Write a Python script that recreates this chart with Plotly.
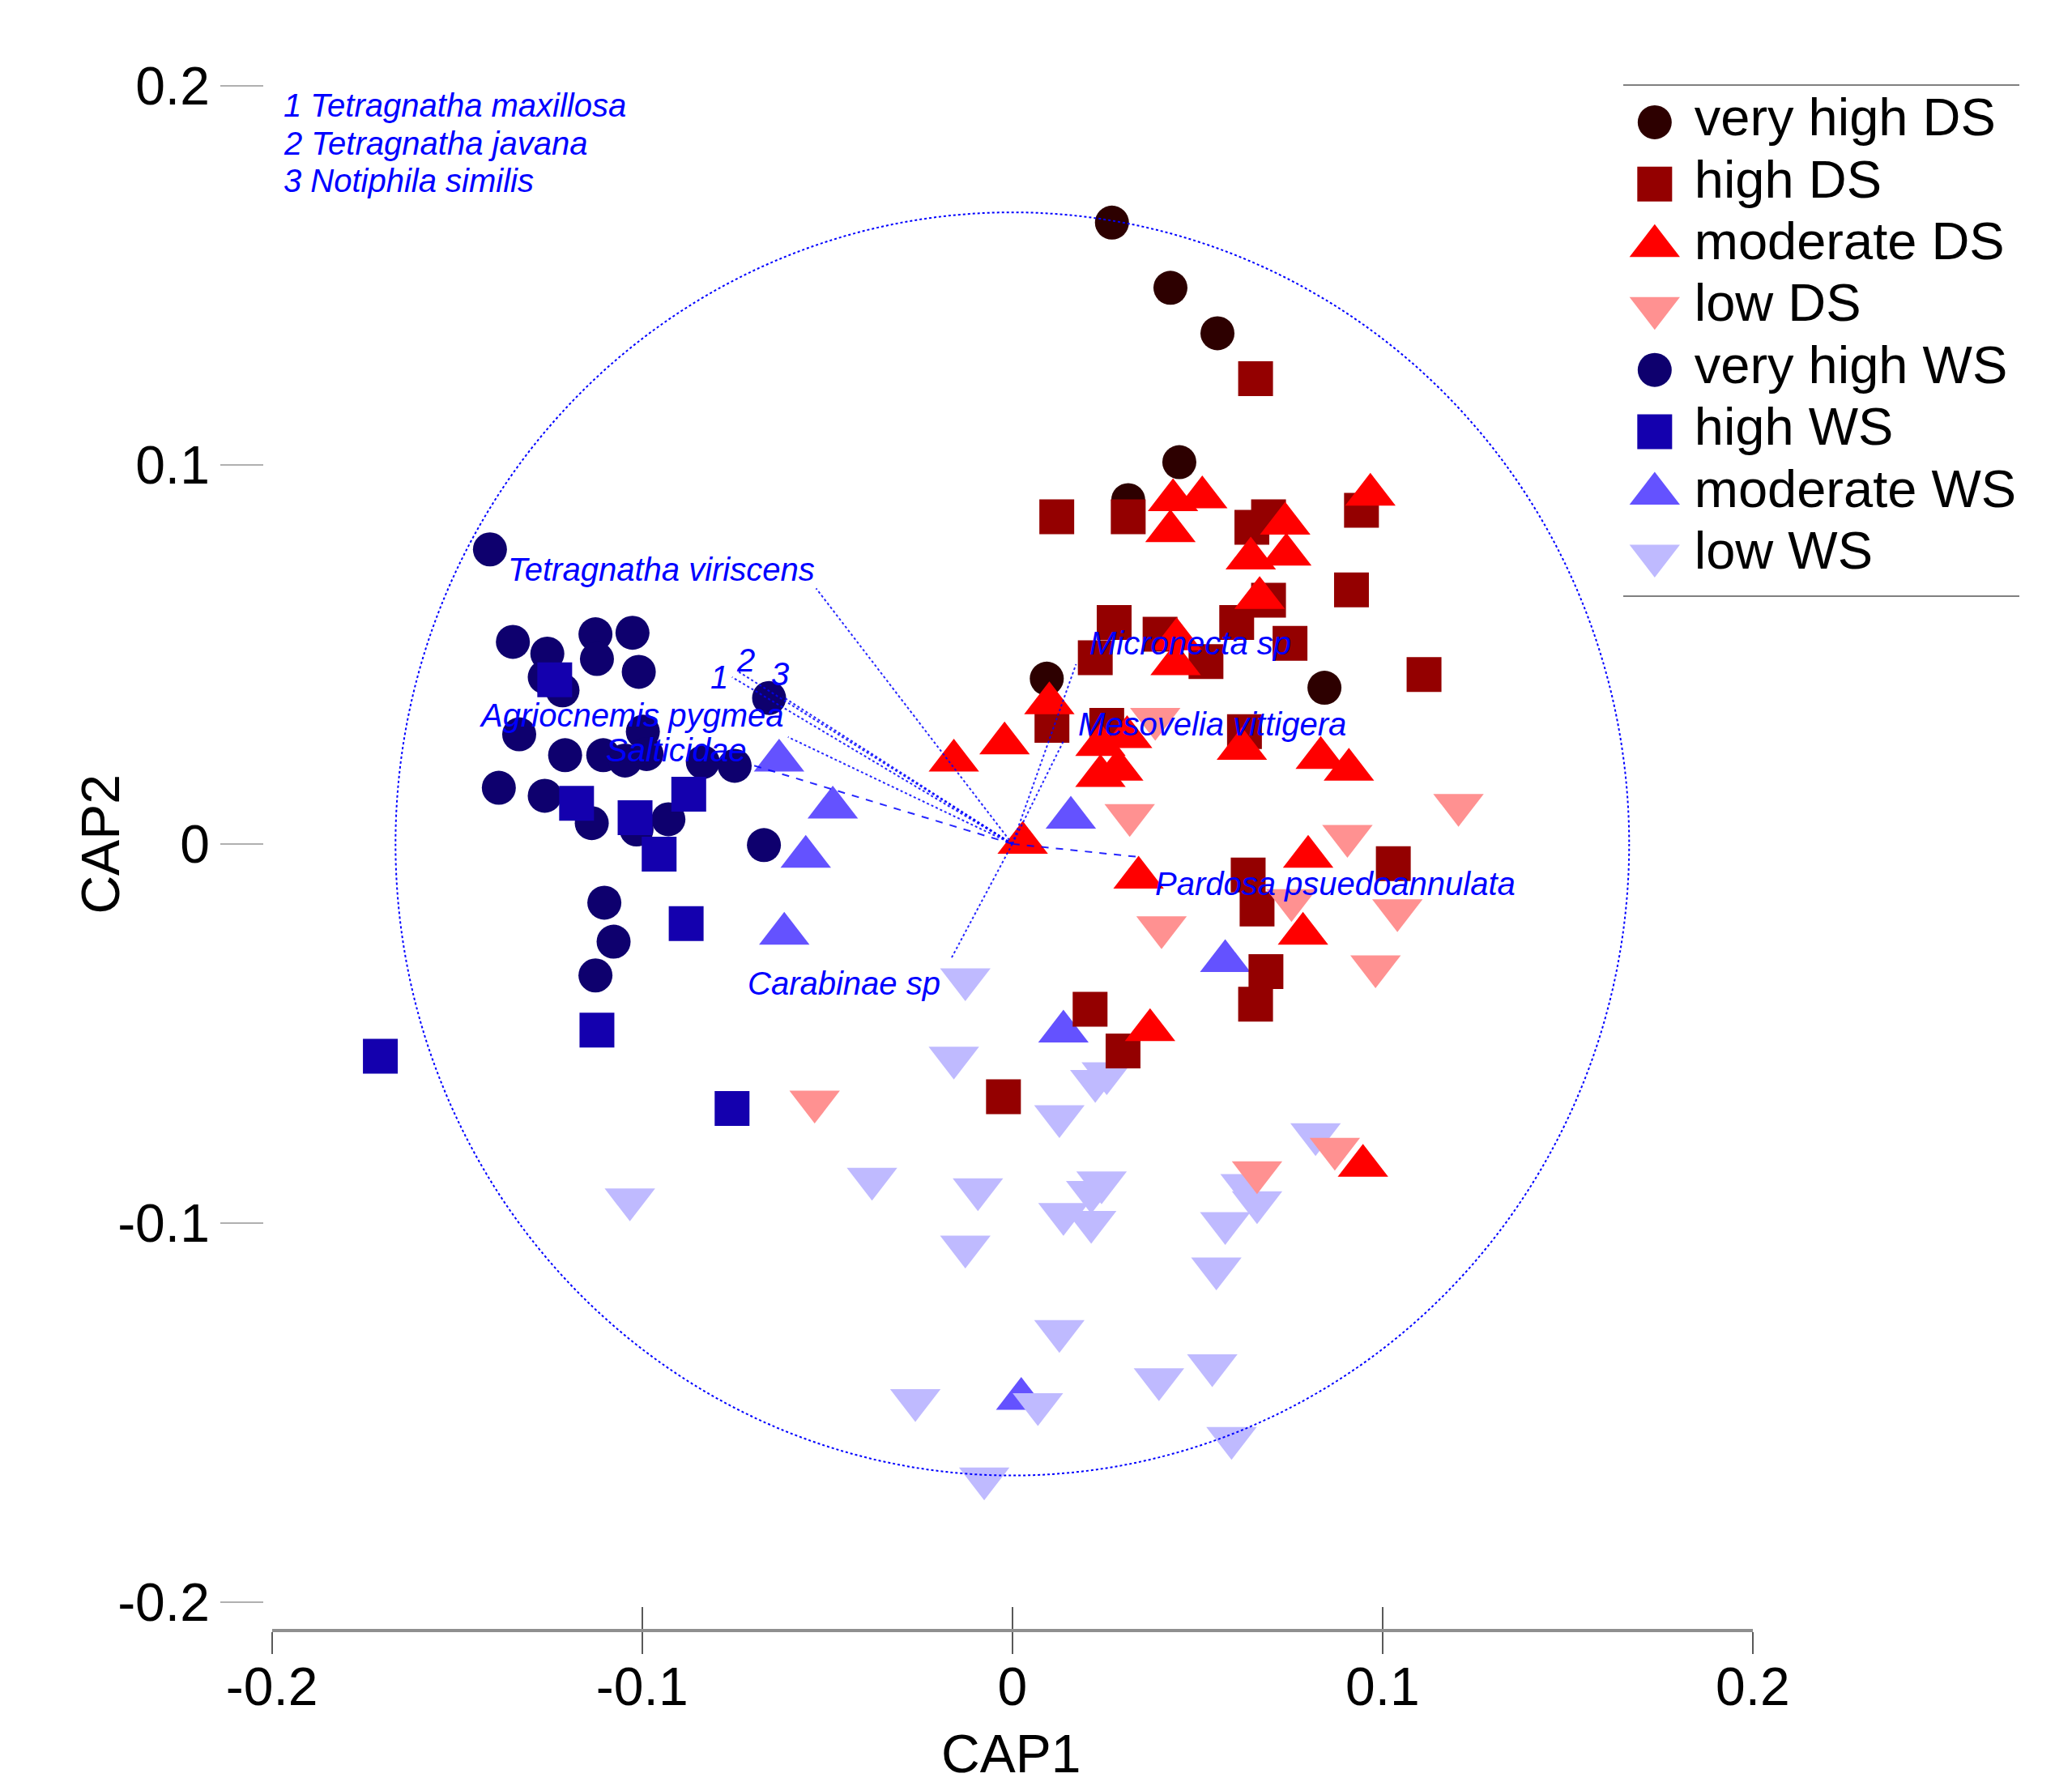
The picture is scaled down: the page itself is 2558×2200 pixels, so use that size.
import plotly.graph_objects as go

W, H = 2558, 2200
FONT = "Liberation Sans, Arial, sans-serif"
BLUE = "#0000ff"

# ---- sample scores (CAP1, CAP2) ----
vh_ds_x = [0.0269, 0.0427, 0.0554, 0.0451, 0.0313, 0.0093, 0.0843]
vh_ds_y = [0.1639, 0.1467, 0.1347, 0.1007, 0.0907, 0.0436, 0.0412]

h_ds_x = [0.0657, 0.0120, 0.0313, 0.0647, 0.0692, 0.0943, 0.0916, 0.0692, 0.0606,
          0.0275, 0.0399, 0.0750, 0.0224, 0.0523, 0.1112, 0.0107, 0.0255, 0.0627,
          0.1029, 0.0637, 0.0661, 0.0685, 0.0657, 0.0210, 0.0299, -0.0024]
h_ds_y = [0.1227, 0.0863, 0.0863, 0.0835, 0.0863, 0.0880, 0.0670, 0.0643, 0.0584,
          0.0584, 0.0553, 0.0529, 0.0491, 0.0481, 0.0447, 0.0313, 0.0313, 0.0296,
          -0.0052, -0.0082, -0.0172, -0.0337, -0.0423, -0.0436, -0.0546, -0.0667]

m_ds_x = [0.0434, 0.0513, 0.0427, 0.0737, 0.0644, 0.0740, 0.0967, 0.0668, 0.0444,
          0.0441, 0.0100, 0.0238, 0.0310, 0.0238, 0.0286, 0.0620, 0.0833, 0.0909,
          0.0799, 0.0785, -0.0158, -0.0021, 0.0028, 0.0341, 0.0372, 0.0947]
m_ds_y = [0.0907, 0.0914, 0.0825, 0.0845, 0.0753, 0.0763, 0.0921, 0.0649, 0.0540,
          0.0474, 0.0371, 0.0261, 0.0282, 0.0179, 0.0196, 0.0251, 0.0227, 0.0196,
          -0.0034, -0.0237, 0.0220, 0.0265, 0.0003, -0.0089, -0.0491, -0.0849]

l_ds_x = [0.0386, 0.0317, 0.0905, 0.1205, 0.0754, 0.1040, 0.0403, 0.0981, 0.0871,
          0.0661, -0.0534]
l_ds_y = [0.0330, 0.0076, 0.0021, 0.0103, -0.0148, -0.0175, -0.0220, -0.0323, -0.0804,
          -0.0866, -0.0680]

vh_ws_x = [-0.1411, -0.1349, -0.1256, -0.1126, -0.1026, -0.1122, -0.1009, -0.1263,
           -0.1215, -0.1332, -0.1208, -0.1105, -0.1046, -0.0998, -0.0988, -0.0836,
           -0.0750, -0.0657, -0.1387, -0.1263, -0.1136, -0.1015, -0.0929, -0.0671,
           -0.1102, -0.1077, -0.1126]
vh_ws_y = [0.0777, 0.0533, 0.0502, 0.0553, 0.0557, 0.0488, 0.0454, 0.0440, 0.0405,
           0.0289, 0.0234, 0.0234, 0.0220, 0.0296, 0.0237, 0.0216, 0.0206, 0.0385,
           0.0148, 0.0127, 0.0055, 0.0038, 0.0065, -0.0003, -0.0155, -0.0258, -0.0347]

h_ws_x = [-0.1236, -0.1177, -0.1019, -0.0874, -0.0954, -0.0881, -0.1122, -0.1707, -0.0757]
h_ws_y = [0.0433, 0.0107, 0.0069, 0.0131, -0.0027, -0.0210, -0.0491, -0.0560, -0.0698]

m_ws_x = [-0.0630, -0.0485, -0.0558, -0.0616, 0.0158, 0.0575, 0.0138, 0.0024]
m_ws_y = [0.0220, 0.0096, -0.0034, -0.0237, 0.0069, -0.0309, -0.0495, -0.1464]

l_ws_x = [-0.0127, -0.0158, 0.0255, 0.0224, 0.0127, -0.0379, -0.0093, 0.0241, 0.0213,
          0.0138, 0.0213, -0.0127, 0.0575, 0.0630, 0.0661, 0.0551, 0.0127, -0.0262,
          0.0069, 0.0396, 0.0540, 0.0592, -0.0076, 0.0819, -0.1033]
l_ws_y = [-0.0357, -0.0564, -0.0605, -0.0625, -0.0718, -0.0883, -0.0911, -0.0893,
          -0.0918, -0.0976, -0.0997, -0.1062, -0.1000, -0.0900, -0.0945, -0.1120,
          -0.1285, -0.1467, -0.1478, -0.1412, -0.1375, -0.1567, -0.1674, -0.0766, -0.0938]

# ---- species vectors ----
vec_names = ["Tetragnatha viriscens", "1", "2", "3", "Agriocnemis pygmea", "Salticidae",
             "Micronecta sp", "Mesovelia vittigera", "Pardosa psuedoannulata", "Carabinae sp"]
vec_x = [-0.0530, -0.0757, -0.0744, -0.0620, -0.0606, -0.0709, 0.0172, 0.0138, 0.0337, -0.0165]
vec_y = [0.0674, 0.0440, 0.0457, 0.0388, 0.0282, 0.0210, 0.0474, 0.0271, -0.0034, -0.0302]
CIRCLE_R = 0.1666

KEY = ["1 Tetragnatha maxillosa", "2 Tetragnatha javana", "3 Notiphila similis"]

TICKS = [-0.2, -0.1, 0, 0.1, 0.2]
TICK_TEXT = ["-0.2", "-0.1", "0", "0.1", "0.2"]

GROUPS = ["very high DS", "high DS", "moderate DS", "low DS",
          "very high WS", "high WS", "moderate WS", "low WS"]
POINTS = {
    "very high DS": (vh_ds_x, vh_ds_y), "high DS": (h_ds_x, h_ds_y),
    "moderate DS": (m_ds_x, m_ds_y), "low DS": (l_ds_x, l_ds_y),
    "very high WS": (vh_ws_x, vh_ws_y), "high WS": (h_ws_x, h_ws_y),
    "moderate WS": (m_ws_x, m_ws_y), "low WS": (l_ws_x, l_ws_y),
}
COLOR = {
    "very high DS": "#2d0000", "high DS": "#940000", "moderate DS": "#ff0000",
    "low DS": "#ff9191", "very high WS": "#0e006e", "high WS": "#1400ae",
    "moderate WS": "#6452ff", "low WS": "#bfbaff",
}
SYMBOL = {
    "very high DS": "circle", "high DS": "square", "moderate DS": "triangle-up",
    "low DS": "triangle-down", "very high WS": "circle", "high WS": "square",
    "moderate WS": "triangle-up", "low WS": "triangle-down",
}
SIZE = {"circle": 42, "square": 43, "triangle-up": 54, "triangle-down": 54}

# label placement per vector: (xanchor, xshift px, yshift px)
LABEL_POS = [("right", 0, 23), ("right", -3, 0), ("left", -3, 13), ("center", -3, 28),
             ("right", -3, 27), ("right", -3, 18), ("left", 15, 26), ("left", 16, 21),
             ("left", 20, -33), ("right", -11, -31)]
VEC_DASH = ["dot", "dot", "dot", "dot", "dot", "dash", "dot", "dot", "dash", "dot"]


def px(v):
    return v / W


def py(v):
    return 1 - v / H


fig = go.Figure()

# WS samples drawn first, DS samples on top (as in the original)
for g in GROUPS[4:] + GROUPS[:4]:
    xs, ys = POINTS[g]
    fig.add_trace(go.Scatter(
        x=xs, y=ys, mode="markers", name=g,
        marker=dict(symbol=SYMBOL[g], color=COLOR[g], size=SIZE[SYMBOL[g]],
                    opacity=1, line=dict(width=0)),
        hovertemplate=g + "<br>CAP1 %{x:.3f}<br>CAP2 %{y:.3f}<extra></extra>",
    ))

# vectors on the overlaid x2 axis (also carries the upward half of x ticks)
for name, vx, vy, dash in zip(vec_names, vec_x, vec_y, VEC_DASH):
    fig.add_trace(go.Scatter(
        x=[0, vx], y=[0, vy], mode="lines", xaxis="x2", yaxis="y",
        line=dict(color="rgba(0,0,255,0.85)", width=2, dash=dash),
        hoverinfo="skip",
    ))

# custom legend panel
rows = [-i for i in range(len(GROUPS))]
fig.add_trace(go.Scatter(
    x=[0.08] * len(GROUPS), y=rows, mode="markers", xaxis="x3", yaxis="y3",
    marker=dict(symbol=[SYMBOL[g] for g in GROUPS], color=[COLOR[g] for g in GROUPS],
                size=[SIZE[SYMBOL[g]] for g in GROUPS], opacity=1, line=dict(width=0)),
    hoverinfo="skip",
))
fig.add_trace(go.Scatter(
    x=[0.18] * len(GROUPS), y=rows, mode="text", xaxis="x3", yaxis="y3",
    text=GROUPS, textposition="middle right",
    textfont=dict(size=65, color="black", family=FONT),
    hoverinfo="skip",
))

annotations = []
for name, vx, vy, (xa, xs, ys) in zip(vec_names, vec_x, vec_y, LABEL_POS):
    annotations.append(dict(
        x=vx, y=vy, xref="x", yref="y", text=f"<i>{name}</i>", showarrow=False,
        xanchor=xa, yanchor="middle", xshift=xs, yshift=ys,
        font=dict(size=40, color=BLUE, family=FONT),
    ))
for i, line in enumerate(KEY):
    annotations.append(dict(
        x=px(295), y=py(87 + 47 * i), xref="paper", yref="paper",
        text=f"<i>{line}</i>", showarrow=False, xanchor="left", yanchor="middle",
        font=dict(size=40, color=BLUE, family=FONT),
    ))
annotations.append(dict(
    x=px(1233), y=py(2160), xref="paper", yref="paper", text="CAP1",
    showarrow=False, xanchor="center", yanchor="middle",
    font=dict(size=66, color="black", family=FONT),
))
annotations.append(dict(
    x=px(62), y=py(1017), xref="paper", yref="paper", text="CAP2",
    showarrow=False, xanchor="center", yanchor="middle", textangle=-90,
    font=dict(size=66, color="black", family=FONT),
))

tickfont = dict(size=66, color="black", family=FONT)
fig.update_layout(
    width=W, height=H,
    margin=dict(l=0, r=0, t=0, b=0),
    paper_bgcolor="white", plot_bgcolor="white",
    showlegend=False,
    font=dict(family=FONT, color="black"),
    xaxis=dict(
        domain=[px(282), px(2187)], range=[-0.2, 0.2], anchor="y",
        showline=True, linecolor="#8f8f8f", linewidth=4,
        ticks="outside", ticklen=27, tickwidth=2, tickcolor="#5a5a5a",
        tickvals=TICKS, ticktext=TICK_TEXT, tickfont=tickfont,
        ticklabelstandoff=-16,
        showgrid=False, zeroline=False,
    ),
    xaxis2=dict(
        overlaying="x", range=[-0.2, 0.2], anchor="y", side="bottom",
        ticks="inside", ticklen=27, tickwidth=2, tickcolor="#5a5a5a",
        tickvals=TICKS, showticklabels=False,
        showline=False, showgrid=False, zeroline=False,
    ),
    yaxis=dict(
        domain=[py(2003), py(62)], range=[-0.207, 0.2], anchor="free",
        position=px(271), ticks="outside", ticklen=53, tickwidth=2,
        tickcolor="#b0b0b0", tickvals=TICKS, ticktext=TICK_TEXT,
        tickfont=tickfont, ticklabelstandoff=0,
        showline=False, showgrid=False, zeroline=False,
    ),
    xaxis3=dict(
        domain=[px(2020), px(2530)], range=[0, 1], anchor="y3",
        showline=True, mirror=True, linecolor="#808080", linewidth=2,
        showticklabels=False, ticks="", showgrid=False, zeroline=False,
    ),
    yaxis3=dict(
        domain=[py(703), py(62)], range=[-7.64, 0.59], anchor="x3",
        visible=False, showgrid=False, zeroline=False,
    ),
    shapes=[dict(
        type="circle", xref="x", yref="y",
        x0=-CIRCLE_R, x1=CIRCLE_R, y0=-CIRCLE_R, y1=CIRCLE_R,
        line=dict(color=BLUE, width=2, dash="dot"), layer="above",
    )],
    annotations=annotations,
)

fig.write_html("out.html")
